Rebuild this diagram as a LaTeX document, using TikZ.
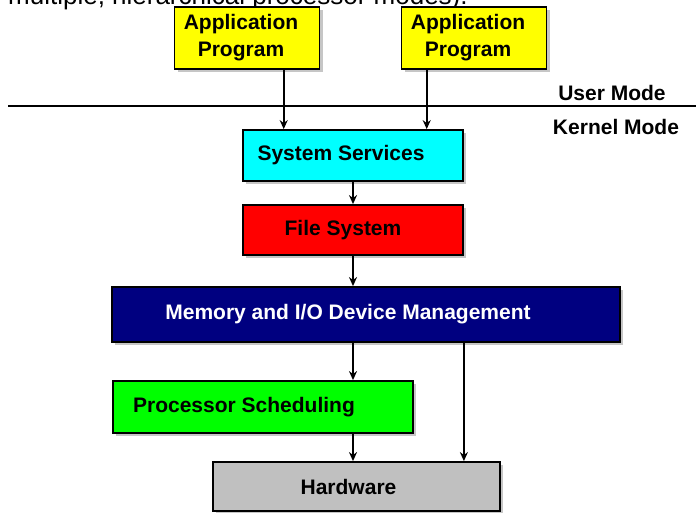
\documentclass[tikz,border=0pt]{standalone}
\usepackage{fontspec}
\setmainfont{Liberation Sans}
\usepackage{tikz}
\usetikzlibrary{arrows,arrows.meta,shapes,positioning,shadows}
\usepackage{xcolor}
\definecolor{osyellow}{RGB}{255,255,0}
\definecolor{oscyan}{RGB}{0,255,255}
\definecolor{osred}{RGB}{255,0,0}
\definecolor{osnavy}{RGB}{0,0,128}
\definecolor{osgreen}{RGB}{0,255,0}
\definecolor{osgray}{RGB}{192,192,192}
\tikzstyle{callarrow} = [line width=1.6pt,-{Stealth[length=9pt,width=8pt]},color=black]
\tikzstyle{layer} = [rectangle, draw=black, line width=1.8pt, inner sep=0pt, drop shadow={shadow xshift=3pt,shadow yshift=-3pt,opacity=0.45}]
\tikzstyle{modelabel} = [font=\bfseries\fontsize{21}{24}\selectfont]

\begin{document}
\begin{tikzpicture}[x=1pt, y=-1pt, font=\bfseries\fontsize{21}{27}\selectfont]
\useasboundingbox (0,0) rectangle (696,512);

% caption cut off at the top
\begin{scope}
\clip (0,0) rectangle (696,512);
\node (caption) [anchor=base west, inner sep=0pt, font=\fontsize{26}{30}\selectfont] at (8,4.5) {multiple, hierarchical processor modes).};
\end{scope}

% user programs
\node (app1) [layer, fill=osyellow, minimum width=145pt, minimum height=62pt, label={[xshift=-6pt,align=center]center:Application\\Program}] at (247,38) {};
\node (app2) [layer, fill=osyellow, minimum width=145pt, minimum height=62pt, label={[xshift=-6pt,align=center]center:Application\\Program}] at (474,38) {};

% user / kernel boundary
\coordinate (lineL) at (8,106);
\coordinate (lineR) at (696,106);
\draw[line width=2.4pt] (lineL) -- (lineR);
\node (user) [modelabel] at (612,93) {User Mode};
\node (kernel) [modelabel] at (616,127) {Kernel Mode};

% kernel layers
\node (ss) [layer, fill=oscyan, minimum width=220pt, minimum height=51pt, label={[xshift=-12pt]center:System Services}] at (353,155.5) {};
\node (fs) [layer, fill=osred, minimum width=220pt, minimum height=50pt, label={[xshift=-10pt]center:File System}] at (353,230) {};
\node (mem) [layer, fill=osnavy, minimum width=508pt, minimum height=55pt, label={[xshift=-18pt,text=white]center:Memory and I/O Device Management}] at (366,314.5) {};
\node (ps) [layer, fill=osgreen, minimum width=300pt, minimum height=52pt, label={[xshift=-19pt]center:Processor Scheduling}] at (263,407) {};
\node (hw) [layer, fill=osgray, minimum width=287pt, minimum height=49pt, label={[xshift=-8pt]center:Hardware}] at (356.5,486.5) {};

% calls down through the layers
\draw[callarrow, line width=2.4pt] (app1.-41) -- (app1.-41 |- ss.north);
\draw[callarrow, line width=2.4pt] (app2.-146) -- (app2.-146 |- ss.north);
\draw[callarrow] (ss.south) -- (fs.north);
\draw[callarrow] (fs.south) -- (fs.south |- mem.north);
\draw[callarrow] (fs.south |- mem.south) -- (fs.south |- ps.north);
\draw[callarrow] (mem.south -| ss.east) -- (hw.north -| ss.east);
\draw[callarrow] (ps.south -| fs.south) -- (hw.north -| fs.south);
\end{tikzpicture}
\end{document}
